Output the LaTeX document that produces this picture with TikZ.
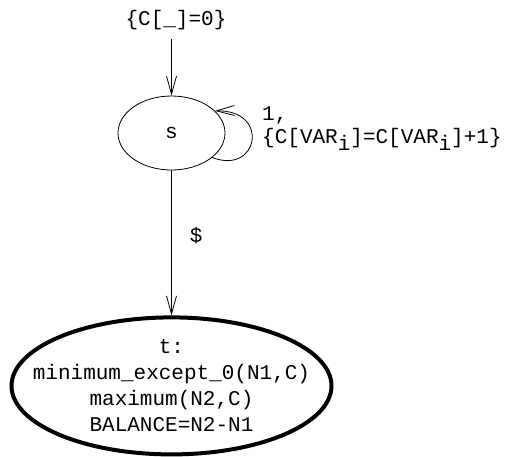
\documentclass[tikz,border=0pt]{standalone}
\usepackage{fontspec}
\setmonofont{Liberation Mono}
\usetikzlibrary{arrows.meta,positioning,shapes.geometric}

\begin{document}
\begin{tikzpicture}[
  x=1pt,y=-1pt,
  lbl/.style={font=\ttfamily\fontsize{21}{26}\selectfont,inner sep=0pt},
  state/.style={ellipse,draw,line width=0.8pt,inner sep=0pt,lbl},
  final/.style={state,line width=4pt,align=center,inner xsep=-26pt,inner ysep=-2pt},
  edge/.style={-{Straight Barb[length=18pt,width=10pt]},line width=0.8pt}
]
  \useasboundingbox (0,0) rectangle (528,456);
  \node[state,minimum width=107pt,minimum height=74pt] (s) at (171.5,133) {s};
  \node[final,minimum width=320pt,minimum height=137pt,below=145pt of s] (t)
    {t:\\minimum\_except\_0(N1,C)\\maximum(N2,C)\\BALANCE=N2-N1};
  \node[lbl,inner ysep=9pt] (init) at (176,20) {\{C[\_]=0\}};
  \node[lbl,align=left,font=\ttfamily\fontsize{21}{23}\selectfont,anchor=west] (loop) at (262,129)
    {1,\\\{C[VAR\raisebox{-7pt}{i}]=C[VAR\raisebox{-7pt}{i}]+1\}};
  % edges
  \draw[edge] (init.south -| s.north) -- (s.north);
  \draw[edge] (s.-31) .. controls +(46,18) and +(56,-1) .. (s.27);
  \draw[edge] (s) -- node[lbl,pos=0.45,right=18pt] (dollar) {\$} (t);
\end{tikzpicture}
\end{document}
